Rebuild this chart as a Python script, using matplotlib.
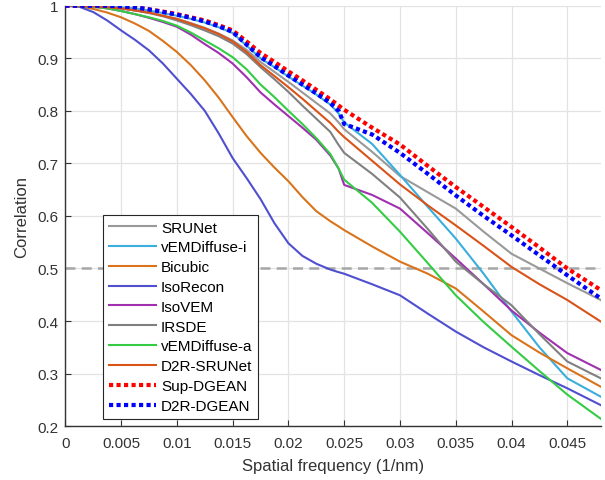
import matplotlib.pyplot as plt

plt.rcParams["font.family"] = ["Liberation Sans", "DejaVu Sans"]

freq = [0, 0.00125, 0.0025, 0.00375, 0.005, 0.00625, 0.0075, 0.00875, 0.01, 0.01125,
        0.0125, 0.01375, 0.015, 0.01625, 0.0175, 0.01875, 0.02, 0.02125, 0.0225, 0.02375,
        0.0245, 0.025, 0.0275, 0.03, 0.0325, 0.035, 0.0375, 0.04, 0.0425, 0.045, 0.048]

srunet = [1.0, 1.0, 0.999, 0.997, 0.995, 0.991, 0.987, 0.981, 0.975, 0.967,
          0.958, 0.947, 0.934, 0.916, 0.893, 0.874, 0.855, 0.835, 0.815, 0.795,
          0.778, 0.765, 0.722, 0.676, 0.645, 0.614, 0.57, 0.528, 0.50, 0.472, 0.44]
vemdiffuse_i = [1.0, 1.0, 0.999, 0.998, 0.997, 0.995, 0.991, 0.986, 0.981, 0.975,
                0.968, 0.959, 0.948, 0.924, 0.90, 0.883, 0.865, 0.848, 0.831, 0.812,
                0.795, 0.778, 0.737, 0.678, 0.617, 0.557, 0.49, 0.418, 0.35, 0.291, 0.256]
bicubic = [1.0, 0.999, 0.994, 0.987, 0.978, 0.966, 0.952, 0.933, 0.912, 0.887,
           0.858, 0.825, 0.788, 0.752, 0.72, 0.692, 0.666, 0.636, 0.609, 0.59,
           0.58, 0.573, 0.542, 0.513, 0.49, 0.462, 0.418, 0.373, 0.34, 0.31, 0.275]
isorecon = [1.0, 0.998, 0.988, 0.972, 0.953, 0.935, 0.915, 0.89, 0.861, 0.832,
            0.80, 0.757, 0.71, 0.672, 0.632, 0.586, 0.548, 0.524, 0.509, 0.498,
            0.493, 0.49, 0.47, 0.449, 0.414, 0.38, 0.35, 0.323, 0.297, 0.272, 0.24]
isovem = [1.0, 0.999, 0.998, 0.995, 0.99, 0.984, 0.977, 0.969, 0.96, 0.945,
          0.927, 0.91, 0.89, 0.864, 0.835, 0.812, 0.79, 0.768, 0.745, 0.715,
          0.69, 0.659, 0.64, 0.614, 0.567, 0.519, 0.47, 0.42, 0.378, 0.339, 0.307]
irsde = [1.0, 1.0, 0.999, 0.997, 0.995, 0.991, 0.986, 0.98, 0.972, 0.963,
         0.953, 0.942, 0.928, 0.908, 0.883, 0.86, 0.836, 0.81, 0.785, 0.76,
         0.735, 0.72, 0.68, 0.635, 0.575, 0.513, 0.47, 0.43, 0.375, 0.323, 0.291]
vemdiffuse_a = [1.0, 0.999, 0.998, 0.995, 0.99, 0.984, 0.978, 0.971, 0.962, 0.949,
                0.934, 0.919, 0.902, 0.879, 0.85, 0.826, 0.80, 0.775, 0.748, 0.718,
                0.69, 0.669, 0.625, 0.57, 0.51, 0.449, 0.398, 0.351, 0.305, 0.26, 0.214]
d2r_srunet = [1.0, 1.0, 0.999, 0.997, 0.995, 0.991, 0.987, 0.981, 0.975, 0.966,
              0.957, 0.946, 0.932, 0.912, 0.887, 0.866, 0.845, 0.823, 0.80, 0.777,
              0.76, 0.75, 0.705, 0.66, 0.62, 0.582, 0.543, 0.503, 0.47, 0.44, 0.399]
sup_dgean = [1.0, 1.0, 1.0, 1.0, 0.999, 0.997, 0.993, 0.989, 0.984, 0.978,
             0.972, 0.963, 0.953, 0.932, 0.91, 0.893, 0.875, 0.858, 0.84, 0.822,
             0.81, 0.802, 0.768, 0.736, 0.695, 0.655, 0.617, 0.579, 0.54, 0.50, 0.459]
d2r_dgean = [1.0, 1.0, 1.0, 1.0, 0.999, 0.997, 0.993, 0.988, 0.983, 0.977,
             0.970, 0.961, 0.950, 0.926, 0.902, 0.885, 0.867, 0.85, 0.833, 0.815,
             0.80, 0.775, 0.755, 0.72, 0.68, 0.639, 0.60, 0.563, 0.525, 0.487, 0.443]

fig = plt.figure(figsize=(6.05, 4.81), dpi=100)
ax = fig.add_axes([0.108, 0.112, 0.885, 0.874])

ax.axhline(0.5, color="#A6A6A6", lw=1.8, ls=(0, (4, 2.5)), zorder=1)

solid = [
    (srunet, "SRUNet", "#999999"),
    (vemdiffuse_i, "vEMDiffuse-i", "#3AAEDC"),
    (bicubic, "Bicubic", "#D9741C"),
    (isorecon, "IsoRecon", "#4F4FD0"),
    (isovem, "IsoVEM", "#A030B0"),
    (irsde, "IRSDE", "#808080"),
    (vemdiffuse_a, "vEMDiffuse-a", "#33CC44"),
    (d2r_srunet, "D2R-SRUNet", "#D95319"),
]
for vals, name, col in solid:
    ax.plot(freq, vals, color=col, lw=1.5, label=name, zorder=2)

ax.plot(freq, sup_dgean, color="#FF0000", lw=3, ls=(0, (1, 0.8)), label="Sup-DGEAN", zorder=3)
ax.plot(freq, d2r_dgean, color="#0000FF", lw=3, ls=(0, (1, 0.8)), label="D2R-DGEAN", zorder=3)

ax.set_xlim(0, 0.048)
ax.set_ylim(0.2, 1.0)
ax.set_xticks([0, 0.005, 0.01, 0.015, 0.02, 0.025, 0.03, 0.035, 0.04, 0.045])
ax.set_xticklabels(["0", "0.005", "0.01", "0.015", "0.02", "0.025", "0.03", "0.035", "0.04", "0.045"])
ax.set_yticks([0.2, 0.3, 0.4, 0.5, 0.6, 0.7, 0.8, 0.9, 1.0])
ax.set_yticklabels(["0.2", "0.3", "0.4", "0.5", "0.6", "0.7", "0.8", "0.9", "1"])
ax.grid(True, color="#E3E3E3", lw=0.9)
ax.set_axisbelow(True)

for s in ["top", "right"]:
    ax.spines[s].set_visible(False)
for s in ["left", "bottom"]:
    ax.spines[s].set_color("#333333")
    ax.spines[s].set_linewidth(1.0)
ax.tick_params(direction="in", length=4, labelsize=11, colors="#333333")
ax.tick_params(axis="x", pad=7)
ax.tick_params(axis="y", pad=5)

ax.set_xlabel("Spatial frequency (1/nm)", fontsize=12, color="#333333", labelpad=6)
ax.set_ylabel("Correlation", fontsize=12, color="#333333", labelpad=6)

leg = ax.legend(loc="lower left", bbox_to_anchor=(0.07, 0.017), borderaxespad=0,
                fontsize=11, handlelength=3.1, labelspacing=0.38, handletextpad=0.3,
                fancybox=False, framealpha=1, edgecolor="#262626", borderpad=0.4)
leg.get_frame().set_linewidth(0.8)

plt.savefig("out.png", dpi=100)
